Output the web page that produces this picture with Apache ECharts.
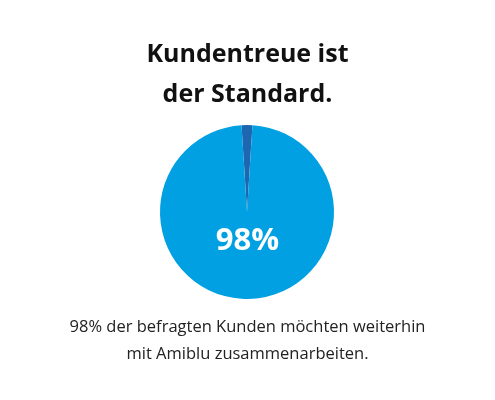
<!DOCTYPE html>
<html>
<head>
<meta charset="utf-8">
<script src="https://cdn.jsdelivr.net/npm/echarts@6/dist/echarts.min.js"></script>
<style>html,body{margin:0;padding:0;background:#fff}#chart{width:495px;height:400px}</style>
</head>
<body>
<div id="chart"></div>
<script>
// Daten
const categories = ['Andere', 'Kunden, die weiter zusammenarbeiten']
const values = [2, 98]
const colors = ['#1f66b0', '#00a0e2']
const titleText = 'Kundentreue ist\nder Standard.'
const centerLabel = '98%'
const footText = '98% der befragten Kunden möchten weiterhin\nmit Amiblu zusammenarbeiten.'

const chart = echarts.init(document.getElementById('chart'))
chart.setOption({
  animation: false,
  title: {
    text: titleText,
    left: 'center',
    top: 30,
    textStyle: { fontFamily: 'Open Sans', fontWeight: 'bold', fontSize: 25, lineHeight: 40, color: '#111' }
  },
  graphic: [{
    type: 'text',
    left: 'center',
    top: 314,
    z: 100,
    style: { text: footText, fontFamily: 'Open Sans', fontSize: 16.5, lineHeight: 27, fill: '#222', textAlign: 'center' }
  }, {
    type: 'text',
    left: 'center',
    top: 226,
    z: 100,
    style: { text: centerLabel, fontFamily: 'Open Sans', fontWeight: 'bold', fontSize: 31, fill: '#fff' }
  }],
  series: [{
    type: 'pie',
    z: 1,
    center: [247, 212],
    radius: [0, 87],
    startAngle: 93.6,
    label: { show: false },
    labelLine: { show: false },
    itemStyle: { borderWidth: 0 },
    data: categories.map((c, i) => ({ name: c, value: values[i], itemStyle: { color: colors[i] } }))
  }]
})
</script>
</body>
</html>
